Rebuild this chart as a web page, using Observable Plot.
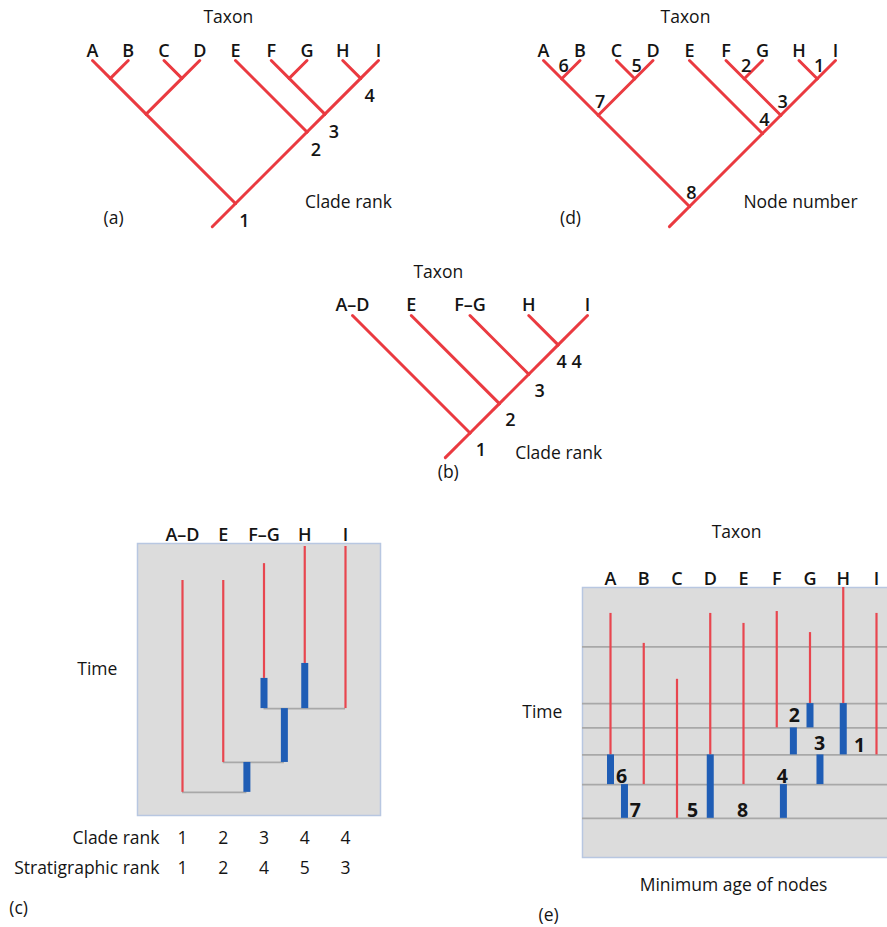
<!DOCTYPE html>
<html>
<head>
<meta charset="utf-8">
<script src="https://cdn.jsdelivr.net/npm/d3@7"></script>
<script src="https://cdn.jsdelivr.net/npm/@observablehq/plot@0.6"></script>
<style>
  html, body { margin: 0; padding: 0; background: #ffffff; }
  #fig { position: relative; width: 887px; height: 927px; overflow: hidden; background: #ffffff; }
  #fig svg { position: absolute; left: 0; top: 0; }
</style>
</head>
<body>
<div id="fig"></div>
<script>
// ================= DATA =================
// Full taxon set and its cladogram (panels a, d)
const taxa = ["A", "B", "C", "D", "E", "F", "G", "H", "I"];
const treeFull = [[["A", "B"], ["C", "D"]], ["E", [["F", "G"], ["H", "I"]]]];

// (a) clade rank along the main spine, keyed by clade [first, last]
const rankCladesA = [["A", "I"], ["E", "I"], ["F", "I"], ["H", "I"]];
const rankValuesA = [1, 2, 3, 4];

// (d) node numbers, keyed by clade [first, last]
const nodeCladesD = [["H", "I"], ["F", "G"], ["F", "I"], ["E", "I"], ["C", "D"], ["A", "B"], ["A", "D"], ["A", "I"]];
const nodeNumbersD = [1, 2, 3, 4, 5, 6, 7, 8];

// (b)/(c) collapsed groups
const groups = ["A–D", "E", "F–G", "H", "I"];
const treeGroups = ["A–D", ["E", ["F–G", ["H", "I"]]]];
const cladeRank = [1, 2, 3, 4, 4];
const stratRank = [1, 2, 4, 5, 3];

// (c) stratigraphic ranges (time: 0 = top/young ... 100 = bottom/old)
const rangeTopC  = [13.6, 13.6, 7.4, 1.1, 1.1];
const rangeBaseC = [91.5, 80.5, 49.6, 44.1, 60.7];
// (c) ghost lineages / minimum ages of nodes (lineage slot on taxon axis)
const ghostSlotC = [2, 3, 2.5, 1.58];
const ghostTopC  = [49.6, 44.1, 60.7, 80.5];
const ghostBaseC = [60.7, 60.7, 80.5, 91.5];
// (c) branching connectors
const joinAgeC  = [60.7, 80.5, 91.5];
const joinFromC = [2, 1, 0];
const joinToC   = [4, 2.5, 1.58];

// (e) stratigraphic horizons and ranges for A..I
const horizonsE  = [22, 43, 52, 62, 73, 85.5];
const rangeTopE  = [9.6, 20.7, 34, 9.6, 13.3, 8.9, 16.7, 0, 9.6];
const rangeBaseE = [62, 73, 85.5, 62, 73, 52, 43, 43, 62];
// (e) ghost lineages
const ghostSlotE = [0, 0.42, 3, 5.2, 5.5, 6, 6.3, 7];
const ghostTopE  = [62, 73, 62, 73, 52, 43, 62, 43];
const ghostBaseE = [73, 85.5, 85.5, 85.5, 62, 52, 73, 62];
// (e) node labels (minimum age of nodes)
const nodeLabelE = [6, 7, 5, 8, 4, 2, 3, 1];
const nodeSlotE  = [0.33, 0.75, 2.47, 3.97, 5.17, 5.53, 6.29, 7.49];
const nodeAgeE   = [70, 82.6, 82.6, 82.6, 70, 47.4, 57.8, 58.5];

// ================= STYLE =================
const W = 887, H = 927;
const FONT = "'Open Sans', 'Noto Sans', sans-serif";
const TREE_RED = "#ea3a40";
const RANGE_RED = "#e8464f";
const BLUE = "#1f5db5";
const BOX_FILL = "#dcdcdc";
const BOX_STROKE = "#b8c7e1";
const GRID = "#a8a8a8";
const INK = "#141414";
const STYLE = `background:transparent;font-family:${FONT};overflow:visible;`;
const TXT = {fontSize: 17.5, fontWeight: 500, fill: INK, fontFamily: FONT};
const LETTER = {fontSize: 18, fontWeight: 600, fill: INK, fontFamily: FONT};
const NUM = {fontSize: 18, fontWeight: 600, fill: INK, fontFamily: FONT};

// ================= LAYOUT HELPERS =================
function layout(tree) {
  const leaves = [], leafParent = [], nodes = [], edges = [];
  const root = (function walk(t) {
    if (!Array.isArray(t)) {
      const i = leaves.length; leaves.push(t);
      return {leaf: true, i, lo: i, hi: i, x: i, y: 0};
    }
    const kids = t.map(walk);
    const lo = kids[0].lo, hi = kids[kids.length - 1].hi;
    const n = {lo, hi, x: (lo + hi) / 2, y: (hi - lo) / 2};
    nodes.push(n);
    kids.forEach(k => {
      edges.push({x1: k.x, y1: k.y, x2: n.x, y2: n.y});
      if (k.leaf) leafParent[k.i] = n;
    });
    return n;
  })(tree);
  nodes.forEach(n => { n.key = leaves[n.lo] + "|" + leaves[n.hi]; });
  return {leaves, leafParent, nodes, edges, root};
}

const fig = document.getElementById("fig");
function add(p) { fig.appendChild(p); }

function treeMarks(T, stem, leafDy) {
  return [
    Plot.link(T.edges, {x1: "x1", y1: "y1", x2: "x2", y2: "y2", stroke: TREE_RED, strokeWidth: 3, strokeLinecap: "round"}),
    Plot.link([T.root], {x1: "x", y1: "y", x2: d => d.x - stem, y2: d => d.y + stem, stroke: TREE_RED, strokeWidth: 3, strokeLinecap: "round"}),
    Plot.text(T.leaves, {x: (d, i) => i, y: 0, dy: leafDy, text: d => d, ...LETTER})
  ];
}
function label(str, x, y, opts = {}) {
  return Plot.text([str], {x, y, text: d => d, ...TXT, ...opts});
}

// ================= PANEL (a) =================
const TA = layout(treeFull);
const keyA = new Map(TA.nodes.map(n => [n.key, n]));
add(Plot.plot({
  width: W, height: H, margin: 0, style: STYLE,
  x: {type: "linear", domain: [0, 8], range: [92, 378], axis: null},
  y: {type: "linear", domain: [0, 4], range: [60, 203], axis: null},
  marks: [
    ...treeMarks(TA, 0.65, -9),
    Plot.text(rankValuesA, {
      x: (d, i) => keyA.get(rankCladesA[i].join("|")).x,
      y: (d, i) => keyA.get(rankCladesA[i].join("|")).y,
      dx: 9, dy: 18, text: d => String(d), ...NUM
    }),
    label("Taxon", 3.8, -1.2),
    label("Clade rank", 7.16, 3.97),
    label("(a)", 0.59, 4.42)
  ]
}));

// ================= PANEL (d) =================
const TD = layout(treeFull);
const keyD = new Map(TD.nodes.map(n => [n.key, n]));
add(Plot.plot({
  width: W, height: H, margin: 0, style: STYLE,
  x: {type: "linear", domain: [0, 8], range: [543, 835], axis: null},
  y: {type: "linear", domain: [0, 4], range: [60, 206], axis: null},
  marks: [
    ...treeMarks(TD, 0.55, -9),
    Plot.text(nodeNumbersD, {
      x: (d, i) => keyD.get(nodeCladesD[i].join("|")).x,
      y: (d, i) => keyD.get(nodeCladesD[i].join("|")).y,
      dx: 2, dy: -13, text: d => String(d), ...NUM
    }),
    label("Taxon", 3.89, -1.18),
    label("Node number", 7.04, 3.89),
    label("(d)", 0.74, 4.33)
  ]
}));

// ================= PANEL (b) =================
const TB = layout(treeGroups);
const byParent = d3.group(TB.leaves.map((t, i) => ({rank: cladeRank[i], parent: TB.leafParent[i]})), d => d.parent);
const rankLabelsB = Array.from(byParent, ([p, arr]) => ({x: p.x, y: p.y, text: arr.map(d => d.rank).join(" ")}));
add(Plot.plot({
  width: W, height: H, margin: 0, style: STYLE,
  x: {type: "linear", domain: [0, 4], range: [352, 587], axis: null},
  y: {type: "linear", domain: [0, 2], range: [315, 432.5], axis: null},
  marks: [
    ...treeMarks(TB, 0.42, -10),
    Plot.text(rankLabelsB, {x: "x", y: "y", dx: 11, dy: 17, text: "text", ...NUM}),
    label("Taxon", 1.46, -0.73),
    label("Clade rank", 3.51, 2.35),
    label("(b)", 1.63, 2.67)
  ]
}));

// ================= PANEL (c) =================
const rangesC = groups.map((g, i) => ({i, top: rangeTopC[i], base: rangeBaseC[i]}));
const ghostsC = ghostSlotC.map((s, i) => ({s, top: ghostTopC[i], base: ghostBaseC[i]}));
const joinsC = joinAgeC.map((a, i) => ({a, from: joinFromC[i], to: joinToC[i]}));
add(Plot.plot({
  width: W, height: H, style: STYLE,
  marginLeft: 137, marginRight: W - 380, marginTop: 543, marginBottom: H - 815,
  x: {type: "linear", domain: [0, 4], range: [182, 345], axis: null},
  y: {type: "linear", domain: [0, 100], range: [543, 815], axis: null},
  marks: [
    Plot.frame({fill: BOX_FILL, stroke: BOX_STROKE, strokeWidth: 1.5}),
    Plot.ruleY(joinsC, {y: "a", x1: "from", x2: "to", stroke: GRID, strokeWidth: 1.8}),
    Plot.ruleX(rangesC, {x: "i", y1: "top", y2: "base", stroke: RANGE_RED, strokeWidth: 2.2}),
    Plot.ruleX(ghostsC, {x: "s", y1: "top", y2: "base", stroke: BLUE, strokeWidth: 7}),
    Plot.text(groups, {x: (d, i) => i, frameAnchor: "top", dy: -15, text: d => d, ...LETTER}),
    Plot.text(cladeRank, {x: (d, i) => i, frameAnchor: "bottom", dy: 28, text: d => String(d), ...TXT}),
    Plot.text(stratRank, {x: (d, i) => i, frameAnchor: "bottom", dy: 58, text: d => String(d), ...TXT}),
    Plot.text(["Clade rank"], {x: 0, dx: -23, frameAnchor: "bottom", dy: 28, textAnchor: "end", text: d => d, ...TXT}),
    Plot.text(["Stratigraphic rank"], {x: 0, dx: -23, frameAnchor: "bottom", dy: 58, textAnchor: "end", text: d => d, ...TXT}),
    label("Time", -2.09, 46.3),
    label("(c)", -4.02, 134.2)
  ]
}));

// ================= PANEL (e) =================
const rangesE = taxa.map((t, i) => ({i, top: rangeTopE[i], base: rangeBaseE[i]}));
const ghostsE = ghostSlotE.map((s, i) => ({s, top: ghostTopE[i], base: ghostBaseE[i]}));
const nodesE = nodeLabelE.map((n, i) => ({n, s: nodeSlotE[i], a: nodeAgeE[i]}));
add(Plot.plot({
  width: W, height: H, style: STYLE,
  marginLeft: 582, marginRight: -4, marginTop: 587, marginBottom: H - 857,
  x: {type: "linear", domain: [0, 8], range: [610, 876], axis: null},
  y: {type: "linear", domain: [0, 100], range: [587, 857], axis: null},
  marks: [
    Plot.frame({fill: BOX_FILL, stroke: BOX_STROKE, strokeWidth: 1.5}),
    Plot.ruleY(horizonsE, {stroke: GRID, strokeWidth: 1.8}),
    Plot.ruleX(rangesE, {x: "i", y1: "top", y2: "base", stroke: RANGE_RED, strokeWidth: 2.2}),
    Plot.ruleX(ghostsE, {x: "s", y1: "top", y2: "base", stroke: BLUE, strokeWidth: 7}),
    Plot.text(nodesE, {x: "s", y: "a", text: d => String(d.n), fontSize: 19.5, fontWeight: 700, fill: INK, fontFamily: FONT}),
    Plot.text(taxa, {x: (d, i) => i, frameAnchor: "top", dy: -15, text: d => d, ...LETTER}),
    label("Taxon", 3.79, -20.4),
    label("Time", -2.05, 46.3),
    label("Minimum age of nodes", 3.7, 110.4),
    label("(e)", -1.86, 121.5)
  ]
}));
</script>
</body>
</html>
